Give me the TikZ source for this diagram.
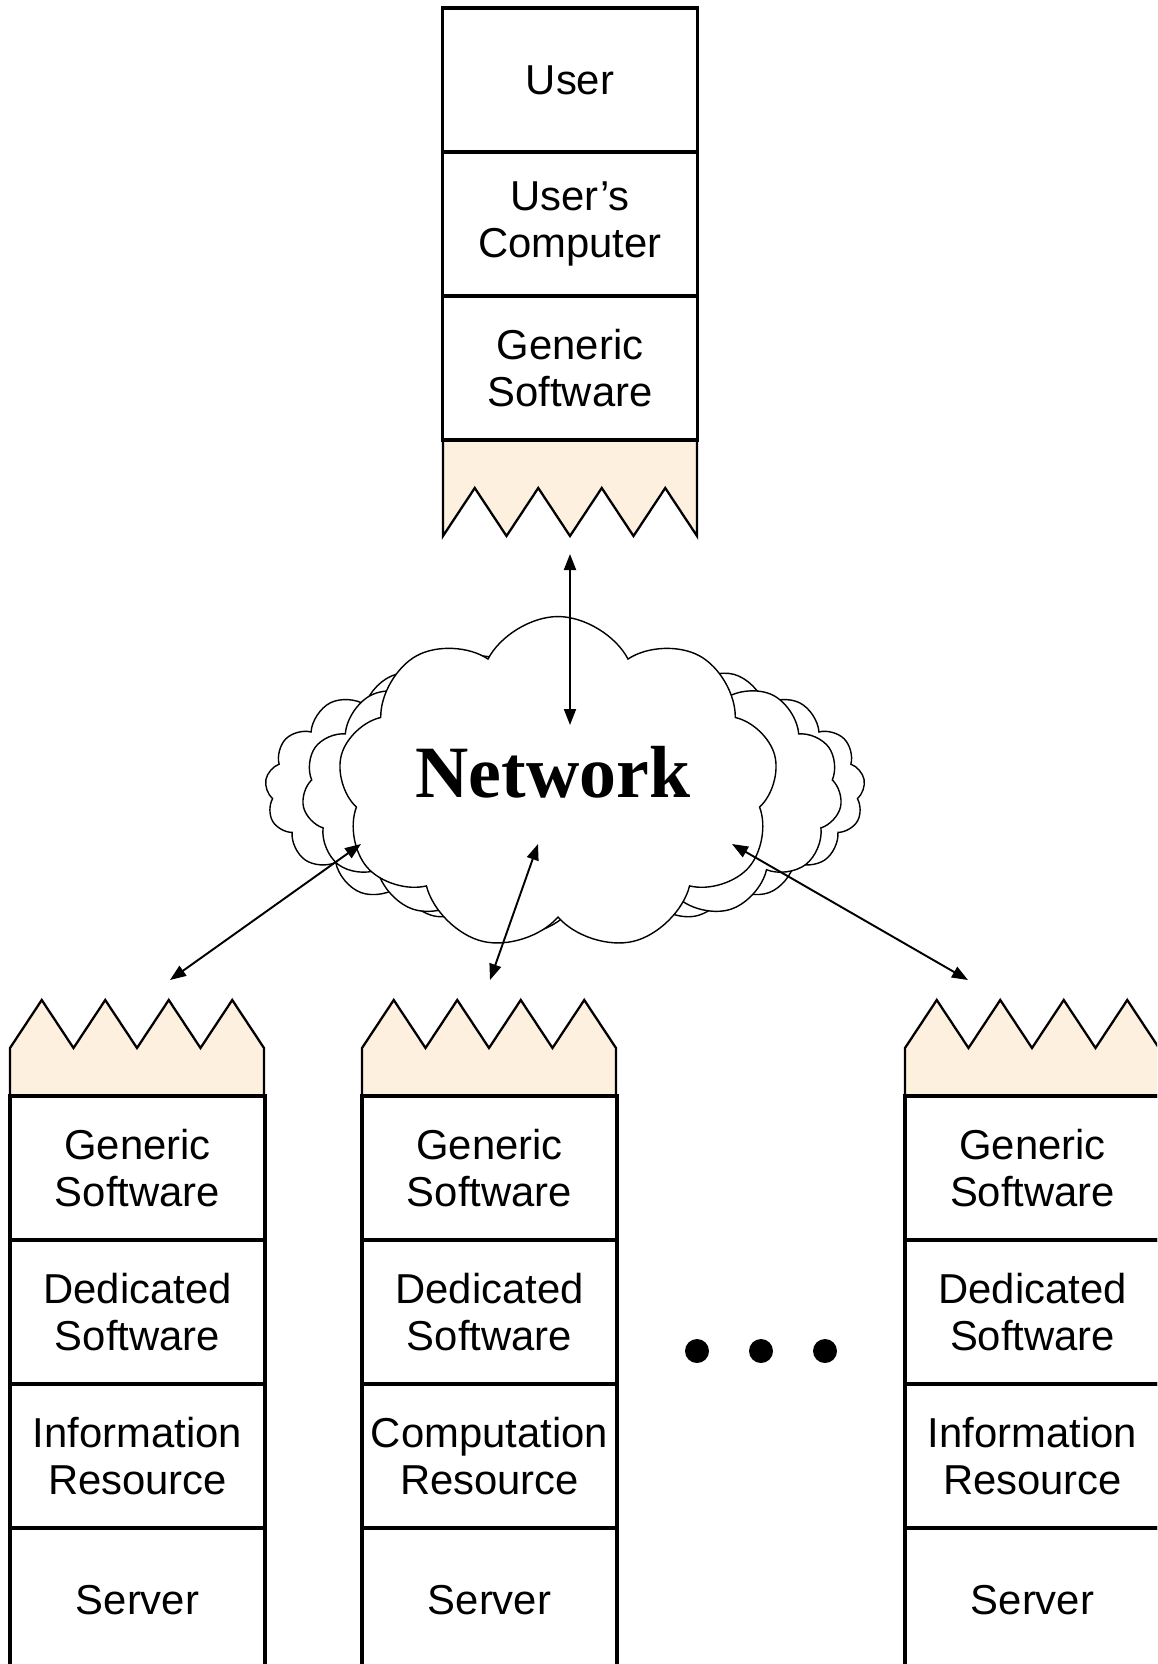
\documentclass[tikz,border=0pt]{standalone}
\usepackage{fontspec}
\usepackage{tikz}
\usetikzlibrary{arrows.meta, shapes.symbols, positioning}
\setmainfont{Liberation Sans}
\newfontfamily\netfont{Liberation Serif}
\definecolor{portbeige}{HTML}{FDF0DF}

\begin{document}
\begin{tikzpicture}[x=0.02cm, y=-0.02cm,
  layer/.style={draw, line width=2pt, minimum width=5.1cm, minimum height=2.88cm, align=center, inner sep=0pt, font=\fontsize{23.8}{26.7}\selectfont},
  port/.style={fill=portbeige, draw, line width=1.3pt},
  cloudy/.style={cloud, draw, fill=white, line width=0.8pt, cloud ignores aspect},
  link/.style={<->, >={Triangle[length=0.32cm, width=0.24cm]}, line width=1.1pt},
  dot/.style={circle, fill=black, inner sep=0pt, minimum size=0.48cm}
]
\clip (0,0) rectangle (1157,1664);

% user side
\draw[port] (443,440) -- ++(254,0) -- ++(0,96) \foreach \i in {1,...,4} {-- ++(-31.75,-48) -- ++(-31.75,48)} -- cycle;
\node[layer] (usr) at (570,80) {User};
\node[layer] (usrpc) at (570,224) {User’s\\Computer};
\node[layer] (usrsw) at (570,368) {Generic\\Software};

% servers
\foreach \x in {10,362,905} {
  \draw[port] (\x,1096) -- ++(0,-48) \foreach \i in {1,...,4} {-- ++(31.75,-48) -- ++(31.75,48)} -- ++(0,48) -- cycle;
}
\node[layer] (gs1) at (137.5,1168) {Generic\\Software};
\node[layer] (ds1) at (137.5,1312) {Dedicated\\Software};
\node[layer] (res1) at (137.5,1456) {Information\\Resource};
\node[layer] (srv1) at (137.5,1600) {Server};

\node[layer] (gs2) at (489.5,1168) {Generic\\Software};
\node[layer] (ds2) at (489.5,1312) {Dedicated\\Software};
\node[layer] (res2) at (489.5,1456) {Computation\\Resource};
\node[layer] (srv2) at (489.5,1600) {Server};

\node[layer] (gs3) at (1032.5,1168) {Generic\\Software};
\node[layer] (ds3) at (1032.5,1312) {Dedicated\\Software};
\node[layer] (res3) at (1032.5,1456) {Information\\Resource};
\node[layer] (srv3) at (1032.5,1600) {Server};

\foreach \x [count=\i] in {697,761,825}
  \node[dot] (dot\i) at (\x,1351) {};

% network cloud
\node[cloudy, cloud puffs=21, cloud puff arc=120, minimum width=12cm, minimum height=5.6cm] (netback) at (565,790) {};
\node[cloudy, cloud puffs=15, cloud puff arc=120, minimum width=10.8cm, minimum height=5.8cm] (netmid) at (572,792) {};
\node[cloudy, cloud puffs=9, cloud puff arc=125, minimum width=8.8cm, minimum height=6.7cm] (net) at (558,784) {};
\node[font=\netfont\bfseries\fontsize{42}{48}\selectfont] (netlbl) at (553,772) {Network};

\coordinate (usr-tip) at (570,554);
\coordinate (net-n) at (570,725);
\coordinate (net-sw) at (361,844);
\coordinate (srv1-tip) at (170,980);
\coordinate (net-s) at (538,844);
\coordinate (srv2-tip) at (490,980);
\coordinate (net-se) at (732,844);
\coordinate (srv3-tip) at (968,980);

\draw[link] (usr-tip) -- (net-n);
\draw[link] (net-sw) -- (srv1-tip);
\draw[link] (net-s) -- (srv2-tip);
\draw[link] (net-se) -- (srv3-tip);
\end{tikzpicture}
\end{document}
